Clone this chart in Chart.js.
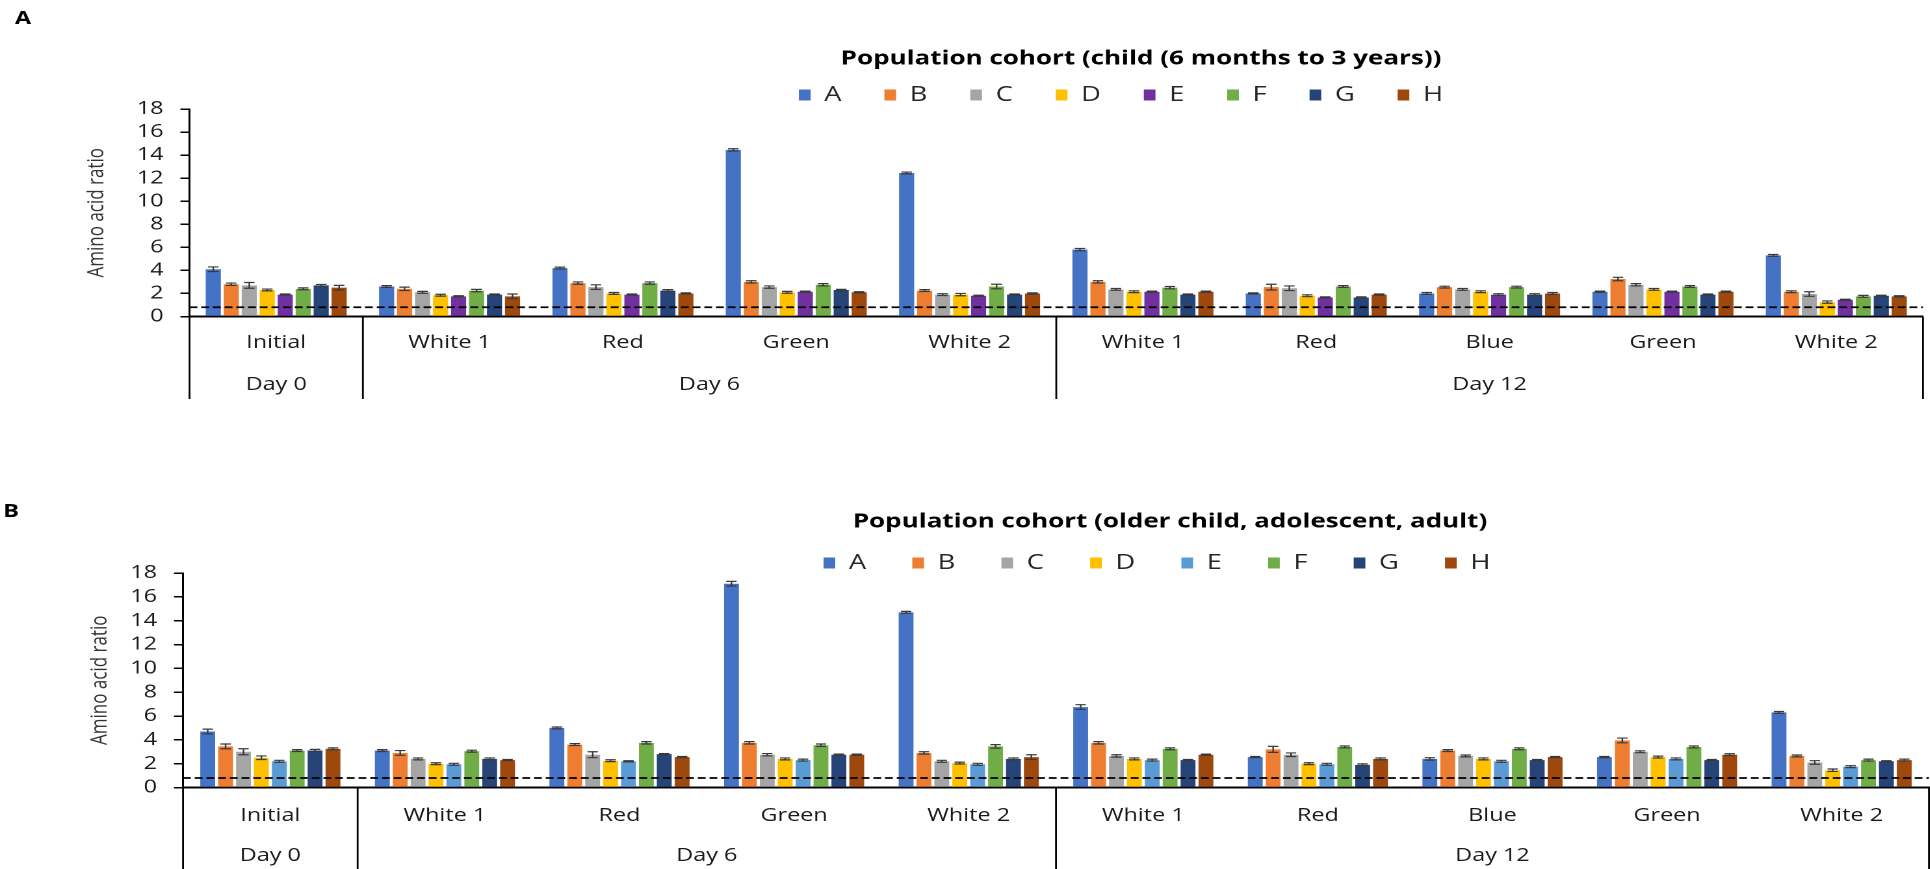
<!DOCTYPE html>
<html>
<head>
<meta charset="utf-8">
<title>Amino acid ratio by population cohort</title>
<script src="https://cdn.jsdelivr.net/npm/chart.js@4.4.1/dist/chart.umd.min.js"></script>
<style>
  html, body { margin: 0; padding: 0; background: #fff; width: 1930px; height: 869px; overflow: hidden; }
  .panel { position: absolute; left: 0; transform-origin: 0 0; transform: scaleX(1.3); }
  canvas { display: block; }
</style>
</head>
<body>
<div class="panel" style="top:0px"><canvas id="panelA" width="1485" height="434"></canvas></div>
<div class="panel" style="top:434px"><canvas id="panelB" width="1485" height="435"></canvas></div>
<script>
// ---- shared axis data ----
const categories = ['Initial', 'White 1', 'Red', 'Green', 'White 2', 'White 1', 'Red', 'Blue', 'Green', 'White 2'];
const groupLabels = ['Day 0', 'Day 6', 'Day 12'];
const groupSizes = [1, 4, 5];
const seriesNames = ['A', 'B', 'C', 'D', 'E', 'F', 'G', 'H'];
const yTickValues = [0, 2, 4, 6, 8, 10, 12, 14, 16, 18];
const referenceLevel = 0.8;

// ---- child (6 months to 3 years) ----
const childA = [4.1, 2.6, 4.2, 14.45, 12.45, 5.8, 2.0, 2.0, 2.15, 5.3];
const childB = [2.8, 2.4, 2.9, 3.0, 2.25, 3.0, 2.55, 2.55, 3.25, 2.15];
const childC = [2.7, 2.1, 2.55, 2.55, 1.9, 2.35, 2.45, 2.35, 2.75, 1.95];
const childD = [2.3, 1.85, 2.0, 2.1, 1.9, 2.15, 1.8, 2.15, 2.35, 1.25];
const childE = [1.9, 1.75, 1.9, 2.15, 1.8, 2.15, 1.65, 1.9, 2.15, 1.45];
const childF = [2.4, 2.25, 2.9, 2.75, 2.6, 2.5, 2.6, 2.55, 2.6, 1.75];
const childG = [2.7, 1.9, 2.25, 2.3, 1.9, 1.9, 1.65, 1.9, 1.9, 1.8];
const childH = [2.5, 1.75, 2.0, 2.1, 2.0, 2.15, 1.9, 2.0, 2.15, 1.75];

const childErrA = [0.2, 0.08, 0.08, 0.1, 0.08, 0.1, 0.05, 0.08, 0.05, 0.08];
const childErrB = [0.1, 0.15, 0.1, 0.1, 0.08, 0.1, 0.25, 0.08, 0.15, 0.08];
const childErrC = [0.25, 0.08, 0.2, 0.1, 0.08, 0.08, 0.2, 0.08, 0.1, 0.2];
const childErrD = [0.08, 0.08, 0.08, 0.08, 0.1, 0.08, 0.08, 0.08, 0.08, 0.1];
const childErrE = [0.05, 0.05, 0.05, 0.05, 0.05, 0.05, 0.05, 0.08, 0.05, 0.05];
const childErrF = [0.08, 0.1, 0.1, 0.1, 0.2, 0.1, 0.08, 0.08, 0.08, 0.08];
const childErrG = [0.08, 0.05, 0.08, 0.05, 0.05, 0.05, 0.05, 0.08, 0.05, 0.05];
const childErrH = [0.2, 0.2, 0.05, 0.05, 0.05, 0.05, 0.05, 0.08, 0.05, 0.05];

// ---- older child, adolescent, adult ----
const adultA = [4.7, 3.1, 5.0, 17.1, 14.7, 6.75, 2.55, 2.4, 2.55, 6.3];
const adultB = [3.45, 2.9, 3.6, 3.75, 2.9, 3.75, 3.2, 3.1, 3.95, 2.65];
const adultC = [3.0, 2.4, 2.75, 2.75, 2.2, 2.65, 2.75, 2.65, 3.0, 2.1];
const adultD = [2.5, 2.0, 2.25, 2.4, 2.05, 2.4, 2.0, 2.4, 2.55, 1.45];
const adultE = [2.2, 1.95, 2.2, 2.3, 1.95, 2.3, 1.95, 2.2, 2.4, 1.75];
const adultF = [3.1, 3.05, 3.75, 3.55, 3.45, 3.25, 3.4, 3.25, 3.4, 2.3];
const adultG = [3.1, 2.4, 2.8, 2.75, 2.4, 2.3, 1.9, 2.3, 2.3, 2.2];
const adultH = [3.25, 2.3, 2.55, 2.75, 2.55, 2.75, 2.4, 2.55, 2.75, 2.3];

const adultErrA = [0.2, 0.08, 0.08, 0.2, 0.08, 0.2, 0.05, 0.1, 0.05, 0.08];
const adultErrB = [0.2, 0.2, 0.08, 0.1, 0.1, 0.1, 0.25, 0.08, 0.2, 0.08];
const adultErrC = [0.25, 0.08, 0.25, 0.1, 0.08, 0.1, 0.15, 0.08, 0.08, 0.15];
const adultErrD = [0.15, 0.08, 0.08, 0.08, 0.08, 0.08, 0.08, 0.08, 0.08, 0.1];
const adultErrE = [0.08, 0.08, 0.05, 0.08, 0.08, 0.08, 0.08, 0.08, 0.08, 0.08];
const adultErrF = [0.08, 0.08, 0.1, 0.1, 0.15, 0.08, 0.08, 0.08, 0.08, 0.08];
const adultErrG = [0.1, 0.08, 0.05, 0.05, 0.08, 0.05, 0.08, 0.05, 0.05, 0.05];
const adultErrH = [0.08, 0.05, 0.05, 0.05, 0.2, 0.05, 0.08, 0.05, 0.08, 0.08];

const childColors = ['#4472C4', '#ED7D31', '#A5A5A5', '#FFC000', '#7030A0', '#70AD47', '#264478', '#9E480E'];
const adultColors = ['#4472C4', '#ED7D31', '#A5A5A5', '#FFC000', '#5B9BD5', '#70AD47', '#264478', '#9E480E'];

const FONT = "'Open Sans', 'Noto Sans', sans-serif";
const W = 1485; // internal canvas width (stretched 1.3x on screen)

// error bars with caps, drawn through the value scale
const errorBarPlugin = {
  id: 'errorBars',
  afterDatasetsDraw(chart, args, opts) {
    const ctx = chart.ctx, ys = chart.scales.y;
    ctx.save();
    ctx.strokeStyle = opts.color;
    ctx.lineWidth = opts.width;
    chart.data.datasets.forEach((ds, i) => {
      const meta = chart.getDatasetMeta(i);
      meta.data.forEach((bar, j) => {
        const v = ds.data[j], e = ds.errors[j];
        const yt = ys.getPixelForValue(v + e), yb = ys.getPixelForValue(v - e);
        const half = bar.width * opts.cap / 2;
        ctx.beginPath();
        ctx.moveTo(bar.x, yt); ctx.lineTo(bar.x, yb);
        ctx.moveTo(bar.x - half, yt); ctx.lineTo(bar.x + half, yt);
        ctx.moveTo(bar.x - half, yb); ctx.lineTo(bar.x + half, yb);
        ctx.stroke();
      });
    });
    ctx.restore();
  }
};

// dashed reference level across the plot
const refLinePlugin = {
  id: 'refLine',
  afterDatasetsDraw(chart, args, opts) {
    const ctx = chart.ctx, a = chart.chartArea;
    const y = chart.scales.y.getPixelForValue(opts.value);
    ctx.save();
    ctx.strokeStyle = '#000';
    ctx.lineWidth = 1.8;
    ctx.setLineDash([6, 3]);
    ctx.beginPath();
    ctx.moveTo(a.left, y); ctx.lineTo(a.right, y);
    ctx.stroke();
    ctx.restore();
  }
};

// second category row (days) with separators, plus the panel letter
const groupAxisPlugin = {
  id: 'groupAxis',
  afterDraw(chart, args, opts) {
    const ctx = chart.ctx, a = chart.chartArea, xs = chart.scales.x;
    const n = categories.length;
    const edge = i => i === 0 ? a.left : i === n ? a.right
      : (xs.getPixelForValue(i - 1) + xs.getPixelForValue(i)) / 2;
    ctx.save();
    ctx.strokeStyle = '#000';
    ctx.lineWidth = 1.4;
    ctx.fillStyle = '#1a1a1a';
    ctx.font = '18px ' + FONT;
    ctx.textAlign = 'center';
    ctx.textBaseline = 'middle';
    let start = 0;
    groupSizes.forEach((size, g) => {
      const end = start + size;
      const x0 = edge(start), x1 = edge(end);
      ctx.beginPath();
      ctx.moveTo(x0, a.bottom); ctx.lineTo(x0, opts.bottom);
      if (end === n) { ctx.moveTo(x1, a.bottom); ctx.lineTo(x1, opts.bottom); }
      ctx.stroke();
      ctx.fillText(groupLabels[g], (x0 + x1) / 2, opts.labelY);
      start = end;
    });
    ctx.fillStyle = '#000';
    ctx.font = 'bold 18px ' + FONT;
    ctx.fillText(opts.letter, opts.letterX, opts.letterY);
    ctx.restore();
  }
};

// places the title and legend rows at their own centres
const placementPlugin = {
  id: 'placement',
  afterLayout(chart, args, opts) {
    const t = chart.titleBlock, l = chart.legend;
    if (t) {
      const dx = opts.titleX - (t.left + t.right) / 2;
      t.left += dx; t.right += dx;
      const h = t.height;
      t.top = opts.titleY - opts.titleLine / 2; t.bottom = t.top + h;
    }
    if (l) {
      const dx = opts.legendX - (l.left + l.right) / 2;
      l.left += dx; l.right += dx;
      const h = l.height;
      l.top = opts.legendY - opts.legendPad - opts.legendItem / 2; l.bottom = l.top + h;
    }
  }
};

function makePanel(canvasId, p) {
  const titleSize = 20, legendSize = 21, boxH = 11;
  const titleH = titleSize * 1.2;
  const legendItem = Math.max(legendSize, boxH);
  const legendH = legendItem + p.legendPad + 10;
  const canvasH = document.getElementById(canvasId).height;
  const datasets = seriesNames.map((name, i) => ({
    label: name,
    data: p.values[i],
    errors: p.errors[i],
    backgroundColor: p.colors[i],
    borderWidth: 0,
    categoryPercentage: p.catPct,
    barPercentage: p.barPct
  }));
  return new Chart(document.getElementById(canvasId), {
    type: 'bar',
    data: { labels: categories, datasets },
    plugins: [errorBarPlugin, refLinePlugin, groupAxisPlugin, placementPlugin],
    options: {
      responsive: false,
      animation: false,
      devicePixelRatio: 2,
      layout: {
        padding: {
          top: p.plotTop - titleH - legendH,
          left: 0,
          right: W - p.plotRight,
          bottom: canvasH - p.boxBottom
        }
      },
      plugins: {
        title: {
          display: true,
          text: p.title,
          color: '#000',
          font: { family: FONT, size: titleSize, weight: 'bold' },
          padding: 0
        },
        legend: {
          display: true,
          position: 'top',
          labels: {
            color: '#262626',
            font: { family: FONT, size: legendSize },
            boxWidth: 9,
            boxHeight: boxH,
            padding: p.legendPad
          }
        },
        tooltip: { enabled: false },
        errorBars: { color: '#3a3a3a', width: 1.2, cap: 0.7 },
        refLine: { value: referenceLevel },
        groupAxis: { bottom: p.boxBottom, labelY: p.groupY, letter: p.letter, letterX: p.letterX, letterY: p.letterY },
        placement: {
          titleX: p.titleX, titleY: p.titleY, titleLine: titleH,
          legendX: p.legendX, legendY: p.legendY, legendPad: p.legendPad, legendItem
        }
      },
      scales: {
        x: {
          type: 'category',
          grid: { display: false, drawTicks: false },
          border: { display: true, color: '#000', width: 2 },
          ticks: { color: '#1a1a1a', font: { family: FONT, size: 18 }, padding: p.catPad, maxRotation: 0, autoSkip: false },
          afterFit: s => { s.height = p.boxBottom - p.plotBottom; }
        },
        y: {
          min: 0,
          max: 18,
          grid: { display: true, drawOnChartArea: false, drawTicks: true, tickLength: 7, color: '#000', lineWidth: 1.5 },
          border: { display: true, color: '#000', width: 1.5 },
          ticks: { color: '#1a1a1a', font: { family: FONT, size: 18 }, padding: 13, autoSkip: false },
          afterBuildTicks: s => { s.ticks = yTickValues.map(v => ({ value: v })); },
          title: {
            display: true,
            text: 'Amino acid ratio',
            color: '#333',
            font: { family: FONT, size: 17 },
            padding: { top: p.yTitleX - 10.2, bottom: 0 }
          },
          afterFit: s => { s.width = p.plotLeft; }
        }
      }
    }
  });
}

makePanel('panelA', {
  title: 'Population cohort (child (6 months to 3 years))',
  letter: 'A', letterX: 17.7, letterY: 19,
  values: [childA, childB, childC, childD, childE, childF, childG, childH],
  errors: [childErrA, childErrB, childErrC, childErrD, childErrE, childErrF, childErrG, childErrH],
  colors: childColors,
  plotLeft: 145.8, plotRight: 1479.2, plotTop: 109, plotBottom: 316.5, boxBottom: 399,
  titleX: 877.7, titleY: 59, legendX: 862.3, legendY: 95, legendPad: 33,
  catPad: 15.7, groupY: 385, yTitleX: 74.6,
  catPct: 0.83, barPct: 0.84
});

makePanel('panelB', {
  title: 'Population cohort (older child, adolescent, adult)',
  letter: 'B', letterX: 8.5, letterY: 78,
  values: [adultA, adultB, adultC, adultD, adultE, adultF, adultG, adultH],
  errors: [adultErrA, adultErrB, adultErrC, adultErrD, adultErrE, adultErrF, adultErrG, adultErrH],
  colors: adultColors,
  plotLeft: 140.8, plotRight: 1483.8, plotTop: 139, plotBottom: 353.5, boxBottom: 435,
  titleX: 900, titleY: 88, legendX: 890, legendY: 129, legendPad: 35.5,
  catPad: 17.7, groupY: 422, yTitleX: 77,
  catPct: 0.82, barPct: 0.83
});
</script>
</body>
</html>
